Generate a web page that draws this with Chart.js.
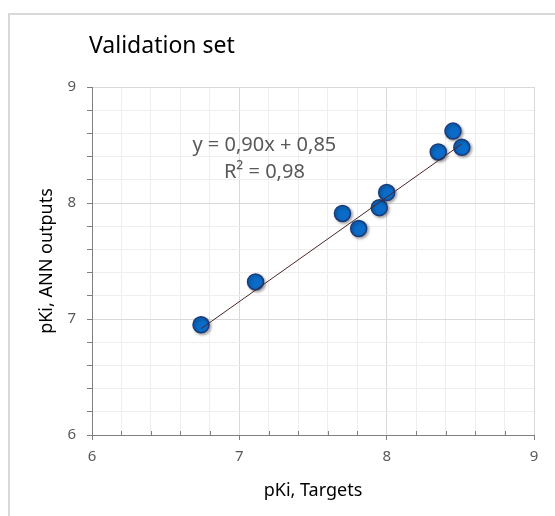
<!DOCTYPE html>
<html>
<head>
<meta charset="utf-8">
<script src="https://cdn.jsdelivr.net/npm/chart.js@4/dist/chart.umd.min.js"></script>
<style>
  html, body { margin: 0; padding: 0; background: #fff; }
  #wrap { position: relative; width: 555px; height: 516px; }
  #frame { position: absolute; left: 8px; top: 13px; right: -4px; bottom: -4px;
           border-left: 2px solid #d9d9d9; border-top: 2px solid #d9d9d9; }
  #chart { position: absolute; left: 0; top: 0; }
</style>
</head>
<body>
<div id="wrap">
  <div id="frame"></div>
  <canvas id="chart" width="555" height="516"></canvas>
</div>
<script>
// values
const targets = [6.74, 7.11, 7.70, 7.81, 7.95, 8.00, 8.35, 8.45, 8.51];
const outputs = [6.95, 7.32, 7.91, 7.78, 7.96, 8.09, 8.44, 8.62, 8.48];

// trendline from the equation shown on the chart
const slope = 0.90;
const intercept = 0.85;
const eqLines = ["y = 0,90x + 0,85", "R\u00b2 = 0,98"];
const eqAnchor = { x: 7.17, y: 8.5 };

const chartTitle = "Validation set";
const xTitle = "pKi, Targets";
const yTitle = "pKi, ANN outputs";
const axisMin = 6;
const axisMax = 9;
const minorStep = 0.2;

const FONT = "'Noto Sans', 'Open Sans', sans-serif";
const isMajor = v => Math.abs(v - Math.round(v)) < 1e-6;

const points = targets.map((t, i) => ({ x: t, y: outputs[i] }));
const xLo = Math.min(...targets);
const xHi = Math.max(...targets);
const trend = [
  { x: xLo, y: slope * xLo + intercept },
  { x: xHi, y: slope * xHi + intercept }
];

const decorations = {
  id: "decorations",
  beforeDatasetDraw(chart, args) {
    if (args.index === 1) {
      const ctx = chart.ctx;
      ctx.save();
      ctx.shadowColor = "rgba(0,0,0,0.35)";
      ctx.shadowBlur = 3;
      ctx.shadowOffsetX = 1.5;
      ctx.shadowOffsetY = 1.5;
    }
  },
  afterDatasetDraw(chart, args) {
    if (args.index === 1) chart.ctx.restore();
  },
  afterDraw(chart) {
    const ctx = chart.ctx;
    const xs = chart.scales.x, ys = chart.scales.y;
    ctx.save();
    // minor tick marks on the inside of the x axis
    ctx.strokeStyle = "#7f7f7f";
    ctx.lineWidth = 1;
    xs.ticks.forEach(t => {
      if (isMajor(t.value)) return;
      const px = Math.round(xs.getPixelForValue(t.value)) + 0.5;
      ctx.beginPath();
      ctx.moveTo(px, ys.bottom);
      ctx.lineTo(px, ys.bottom - 4);
      ctx.stroke();
    });
    // chart title
    ctx.fillStyle = "#000";
    ctx.font = "23px " + FONT;
    ctx.textAlign = "left";
    ctx.textBaseline = "middle";
    ctx.fillText(chartTitle, 89, 46);
    // trendline label
    ctx.fillStyle = "#595959";
    ctx.font = "20px " + FONT;
    ctx.textAlign = "center";
    const ex = xs.getPixelForValue(eqAnchor.x);
    const ey = ys.getPixelForValue(eqAnchor.y);
    eqLines.forEach((line, i) => ctx.fillText(line, ex, ey + i * 27));
    ctx.restore();
  }
};

function gridColor(ctx) {
  return isMajor(ctx.tick.value) ? "#d9d9d9" : "#eeeeee";
}

new Chart(document.getElementById("chart"), {
  type: "scatter",
  data: {
    datasets: [
      {
        label: "trend",
        data: trend,
        showLine: true,
        borderColor: "#4a2626",
        borderWidth: 1,
        pointRadius: 0,
        order: 0
      },
      {
        label: "validation",
        data: points,
        backgroundColor: "#0a6cc8",
        borderColor: "#1b3a7a",
        borderWidth: 1.5,
        pointRadius: 8,
        order: 1
      }
    ]
  },
  options: {
    responsive: false,
    animation: false,
    layout: { padding: { left: 28, top: 87, right: 21, bottom: 0 } },
    plugins: { legend: { display: false }, tooltip: { enabled: false } },
    scales: {
      x: {
        type: "linear",
        min: axisMin,
        max: axisMax,
        afterFit(s) { s.height = 81; },
        ticks: {
          stepSize: minorStep,
          autoSkip: false,
          maxRotation: 0,
          padding: 8,
          color: "#595959",
          font: { family: FONT, size: 15 },
          callback: v => isMajor(v) ? String(Math.round(v)) : ""
        },
        grid: {
          color: gridColor,
          tickColor: c => isMajor(c.tick.value) ? "#7f7f7f" : "rgba(0,0,0,0)",
          tickLength: 5
        },
        border: { color: "#7f7f7f", width: 1 },
        title: {
          display: true,
          text: xTitle,
          color: "#000",
          font: { family: FONT, size: 18 },
          padding: { top: 0, bottom: 14 }
        }
      },
      y: {
        type: "linear",
        min: axisMin,
        max: axisMax,
        afterFit(s) { s.width = 64; },
        ticks: {
          stepSize: minorStep,
          autoSkip: false,
          padding: 11,
          color: "#595959",
          font: { family: FONT, size: 15 },
          callback: v => isMajor(v) ? String(Math.round(v)) : ""
        },
        grid: {
          color: gridColor,
          tickColor: "#7f7f7f",
          tickLength: 5
        },
        border: { color: "#7f7f7f", width: 1 },
        title: {
          display: true,
          text: yTitle,
          color: "#000",
          font: { family: FONT, size: 18 },
          padding: { top: 8, bottom: 0 }
        }
      }
    }
  },
  plugins: [decorations]
});
</script>
</body>
</html>
